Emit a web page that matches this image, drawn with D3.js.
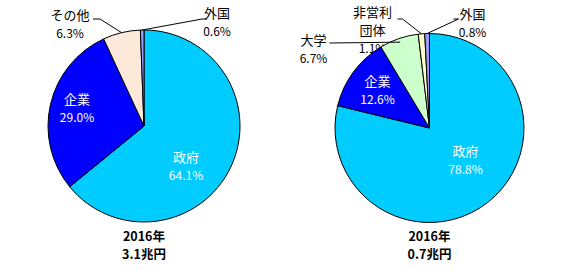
<!DOCTYPE html>
<html>
<head>
<meta charset="utf-8">
<script src="https://cdn.jsdelivr.net/npm/d3@7"></script>
<style>
  body { margin: 0; background: #fff; }
  text { font-family: "Noto Sans CJK JP", "Noto Sans", sans-serif; }
</style>
</head>
<body>
<svg id="chart" width="570" height="270"></svg>
<script>
// left pie: 2016, 3.1兆円
const leftCategories = ["政府", "企業", "その他", "外国"];
const leftValues = [64.1, 29.0, 6.3, 0.6];
const leftColors = ["#00ccff", "#0000ff", "#fde9d9", "#9999ff"];
const leftTitle = ["2016年", "3.1兆円"];

// right pie: 2016, 0.7兆円
const rightCategories = ["政府", "企業", "大学", "非営利\n団体", "外国"];
const rightValues = [78.8, 12.6, 6.7, 1.1, 0.8];
const rightColors = ["#00ccff", "#0000ff", "#ccffcc", "#ffffcc", "#9999ff"];
const rightTitle = ["2016年", "0.7兆円"];

const svg = d3.select("#chart");

// label placement per slice: x,y of first line, inside (white) or outside with a leader
function drawPie(cfg) {
  const { cx, cy, r, categories, values, colors, title, labels } = cfg;
  const data = categories.map((c, i) => ({ cat: c, value: values[i], color: colors[i], lab: labels[i] }));

  const pie = d3.pie().value(d => d.value).sort(null);
  const arcs = pie(data);
  const arc = d3.arc().innerRadius(0).outerRadius(r);

  const g = svg.append("g").attr("transform", `translate(${cx},${cy})`);

  // outside labels sit under the pie like in the original
  const drawLabel = (a, layer) => {
    const L = a.data.lab;
    const lines = a.data.cat.split("\n").concat([a.data.value.toFixed(1) + "%"]);
    const t = layer.append("text")
      .attr("text-anchor", "middle")
      .attr("fill", L.inside ? "#fff" : "#000");
    lines.forEach((s, i) => {
      t.append("tspan")
        .attr("x", L.x)
        .attr("y", L.y + i * 18)
        .attr("font-size", i === lines.length - 1 ? 12 : 13)
        .text(s);
    });
  };

  const under = g.append("g");
  arcs.filter(a => !a.data.lab.inside).forEach(a => drawLabel(a, under));

  g.selectAll("path.slice")
    .data(arcs)
    .enter()
    .append("path")
    .attr("class", "slice")
    .attr("d", arc)
    .attr("fill", d => d.data.color)
    .attr("stroke", "#000")
    .attr("stroke-width", 1);

  arcs.filter(a => a.data.lab.inside).forEach(a => drawLabel(a, g));

  // leader lines from label to the slice edge
  arcs.filter(a => a.data.lab.leader).forEach(a => {
    const mid = (a.startAngle + a.endAngle) / 2;
    const rr = r * (a.data.lab.depth || 1);
    const end = [Math.sin(mid) * rr, -Math.cos(mid) * rr];
    const pts = a.data.lab.leader.concat([end]);
    g.append("path")
      .attr("d", d3.line()(pts))
      .attr("fill", "none")
      .attr("stroke", "#000")
      .attr("stroke-width", 1);
  });

  title.forEach((s, i) => {
    svg.append("text")
      .attr("text-anchor", "middle")
      .attr("font-weight", "bold")
      .attr("font-size", 12.5)
      .attr("fill", "#000")
      .attr("x", cx)
      .attr("y", 241 + i * 18)
      .text(s);
  });
}

drawPie({
  cx: 144, cy: 126, r: 96,
  categories: leftCategories, values: leftValues, colors: leftColors, title: leftTitle,
  labels: [
    { inside: true, x: 42, y: 36 },
    { inside: true, x: -67, y: -22 },
    { x: -74, y: -106, leader: [[-51, -107], [-44, -107]] },
    { x: 73, y: -108, leader: [[63, -107], [58, -107]] }
  ]
});

drawPie({
  cx: 429.5, cy: 128, r: 94.5,
  categories: rightCategories, values: rightValues, colors: rightColors, title: rightTitle,
  labels: [
    { inside: true, x: 36, y: 28 },
    { inside: true, x: -52, y: -42 },
    { x: -116, y: -83, leader: [[-100, -85]], depth: 0.96 },
    { x: -57, y: -111, leader: [[-32, -109], [-27, -109]] },
    { x: 43, y: -109, leader: [[24, -109], [29, -109]] }
  ]
});
</script>
</body>
</html>
